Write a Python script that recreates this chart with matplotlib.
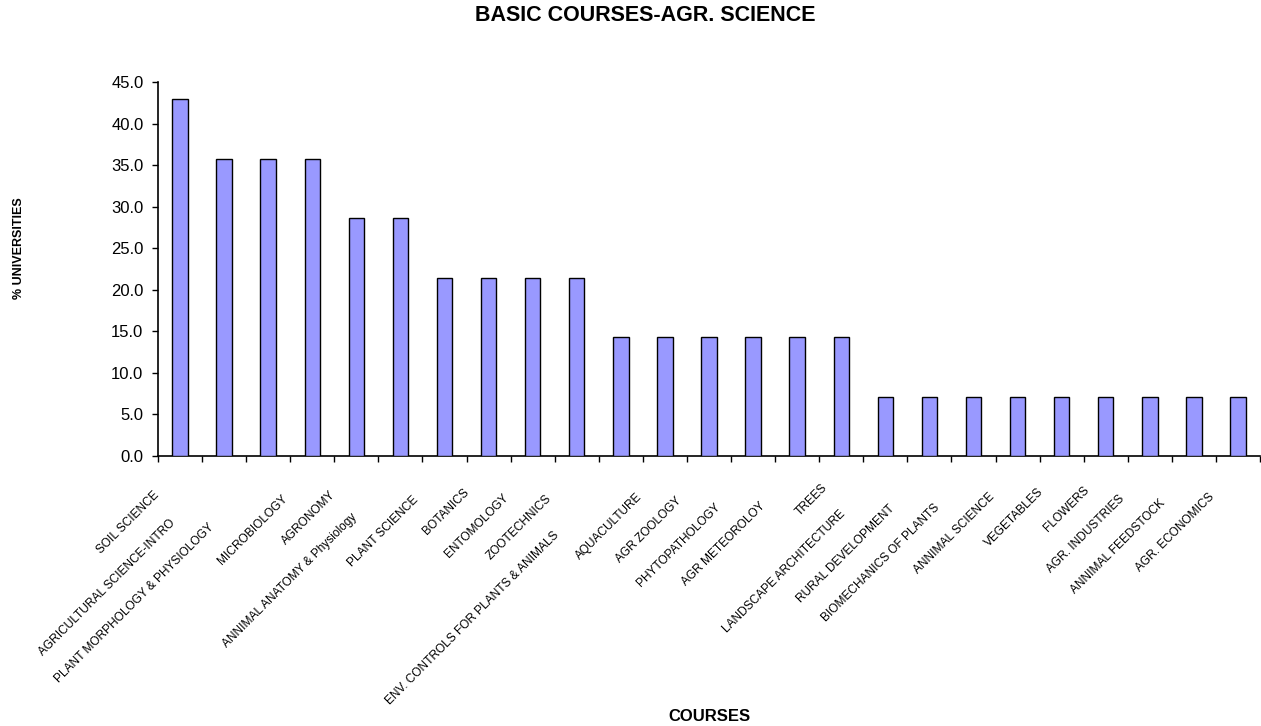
#!/usr/bin/env python3
# -*- coding: utf-8 -*-
"""
Share of universities offering each basic course in agricultural science.
"""
import numpy as np
import matplotlib
matplotlib.use("Agg")
import matplotlib.pyplot as plt

courses = [
    "SOIL SCIENCE", "AGRICULTURAL SCIENCE-INTRO", "PLANT MORPHOLOGY & PHYSIOLOGY",
    "MICROBIOLOGY", "AGRONOMY", "ANNIMAL ANATOMY & Physiology", "PLANT SCIENCE",
    "BOTANICS", "ENTOMOLOGY", "ZOOTECHNICS", "ENV. CONTROLS FOR PLANTS & ANIMALS",
    "AQUACULTURE", "AGR ZOOLOGY", "PHYTOPATHOLOGY", "AGR METEOROLOY", "TREES",
    "LANDSCAPE ARCHITECTURE", "RURAL DEVELOPMENT", "BIOMECHANICS OF PLANTS",
    "ANNIMAL SCIENCE", "VEGETABLES", "FLOWERS", "AGR. INDUSTRIES",
    "ANNIMAL FEEDSTOCK", "AGR. ECONOMICS",
]
pct_universities = [
    42.9, 35.7, 35.7, 35.7, 28.6, 28.6, 21.4, 21.4, 21.4, 21.4, 14.3, 14.3, 14.3,
    14.3, 14.3, 14.3, 7.1, 7.1, 7.1, 7.1, 7.1, 7.1, 7.1, 7.1, 7.1,
]
y_ticks = [0, 5, 10, 15, 20, 25, 30, 35, 40, 45]

# staggered label placement: how far (px, leftwards) each label end sits from its bar
label_shift_px = [
    -23, -51, -56, -27, -23, -45, -28, -21, -26, -27, -64, -25, -29,
    -35, -34, -16, -42, -37, -36, -25, -20, -18, -27, -31, -25,
]

FONT = ["Liberation Sans", "DejaVu Sans"]
PX = 72 / 100  # points per pixel at dpi 100


def main():
    plt.rcParams["font.family"] = FONT
    fig = plt.figure(figsize=(12.61, 7.26), dpi=100)
    ax = fig.add_axes([0.1253, 0.3719, 0.9992 - 0.1253, 0.8871 - 0.3719])

    x = np.arange(len(courses))
    ax.bar(x, pct_universities, width=0.35, color="#9999ff",
           edgecolor="black", linewidth=1.0, zorder=3)

    ax.set_xlim(-0.5, len(courses) - 0.5)
    ax.set_ylim(0, 45)
    ax.set_yticks(y_ticks)
    ax.set_yticklabels([f"{v:.1f}" for v in y_ticks], fontsize=12)
    ax.set_xticks(np.arange(-0.5, len(courses), 1))
    ax.set_xticklabels([])
    ax.tick_params(axis="both", direction="out", length=4, width=1.0, color="black")
    ax.tick_params(axis="y", pad=6.5)

    for s in ("top", "right"):
        ax.spines[s].set_visible(False)
    for s in ("left", "bottom"):
        ax.spines[s].set_linewidth(1.2)

    # rotated category labels, each ending on the 45 degree line through its bar
    for i, (name, dx) in enumerate(zip(courses, label_shift_px)):
        ax.annotate(name, xy=(i, 0), xycoords=ax.get_xaxis_transform(),
                    xytext=(dx * PX, -(14 - dx) * PX), textcoords="offset points",
                    ha="right", va="center", rotation=45, rotation_mode="anchor",
                    fontsize=8.6, color="black", annotation_clip=False)

    fig.text(0.5115, 0.9787, "BASIC COURSES-AGR. SCIENCE", ha="center", va="center",
             fontsize=15.5, fontweight="bold")
    fig.text(0.5623, 0.0124, "COURSES", ha="center", va="center",
             fontsize=12, fontweight="bold")
    fig.text(0.015, 0.658, "% UNIVERSITIES", ha="center", va="center",
             rotation=90, fontsize=9, fontweight="bold")

    fig.savefig("out.png", dpi=100)
    plt.close(fig)


if __name__ == "__main__":
    main()
